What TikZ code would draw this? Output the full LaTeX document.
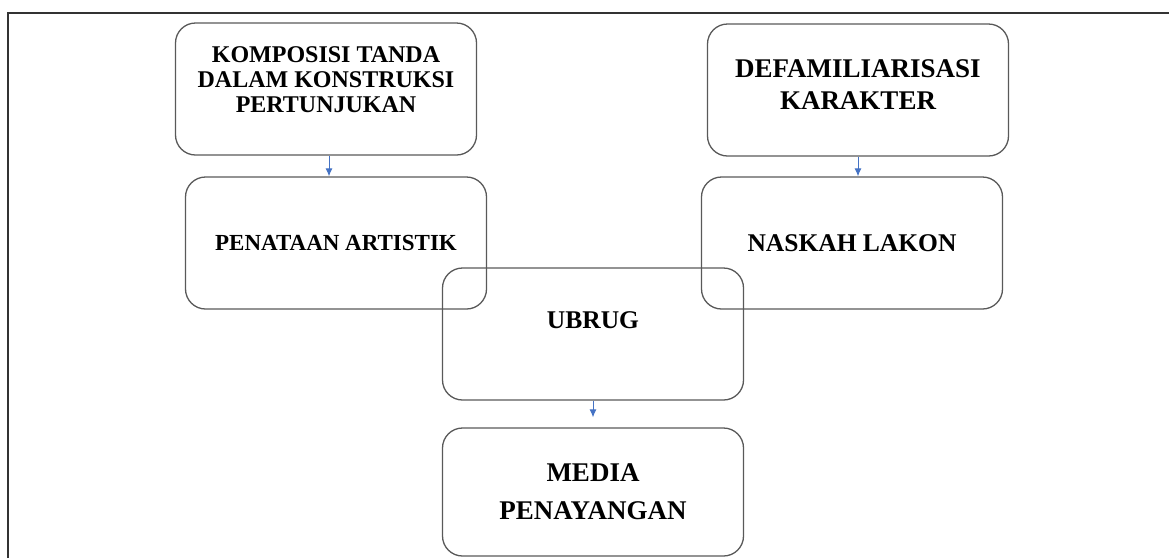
\documentclass[tikz,border=0pt]{standalone}
\usepackage{fontspec}
\setmainfont{Liberation Serif}
\usetikzlibrary{arrows.meta}

\begin{document}
\begin{tikzpicture}[x=1pt, y=-1pt, main/.style = {draw=black!65, line width=1.3pt, rounded corners=20pt, minimum width=301pt, minimum height=132pt, align=center, inner sep=0pt}, arr/.style = {draw={rgb,255:red,68;green,114;blue,196}, line width=1pt, -{Latex[length=8pt,width=7pt]}}]
\useasboundingbox (0,0) rectangle (1169,558);
\draw[black!80, line width=1.3pt] (8,558) -- (8,13) -- (1169,13);
\node[main, font=\bfseries\fontsize{24}{25}\selectfont, text depth=18pt] (1) at (326,89) {KOMPOSISI TANDA\\ DALAM KONSTRUKSI\\ PERTUNJUKAN};
\node[main, font=\bfseries\fontsize{27}{32}\selectfont, text depth=10pt] (2) at (858,90) {DEFAMILIARISASI\\ KARAKTER};
\node[main, font=\bfseries\fontsize{23}{28}\selectfont] (3) at (336,243) {PENATAAN ARTISTIK};
\node[main, font=\bfseries\fontsize{25.5}{30}\selectfont] (4) at (852,243) {NASKAH LAKON};
\node[main, font=\bfseries\fontsize{25.5}{30}\selectfont, text depth=28pt] (5) at (593,334) {UBRUG};
\node[main, font=\bfseries\fontsize{27}{38}\selectfont, minimum height=128pt] (6) at (593,492) {MEDIA\\ PENAYANGAN};
\draw[arr] ([xshift=3pt]1.south) -- ([xshift=3pt]1.south |- 3.north);
\draw[arr] (2.south) -- (2.south |- 4.north);
\draw[arr] (5.south) -- ([yshift=10pt]5.south |- 6.north);
\end{tikzpicture}
\end{document}
